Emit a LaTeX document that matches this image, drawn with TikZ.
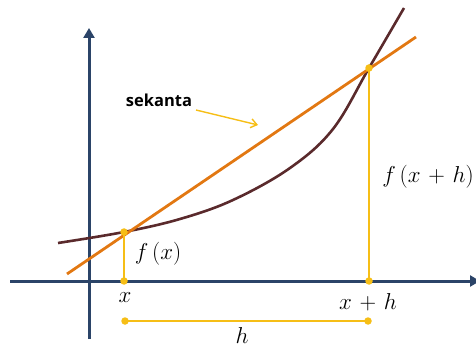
\documentclass[tikz,border=0pt]{standalone}
\usepackage{fontspec}
\usepackage{fix-cm}
\newfontfamily\labelfont{Open Sans}
\usetikzlibrary{arrows.meta}
\definecolor{axisblue}{HTML}{2B4468}
\definecolor{curvebrown}{HTML}{5A2A2C}
\definecolor{secorange}{HTML}{E27812}
\definecolor{guideyellow}{HTML}{F6BE16}
\begin{document}
\begin{tikzpicture}[x=1pt,y=-1pt,
  axisline/.style={draw=axisblue,line width=3pt},
  curveline/.style={draw=curvebrown,line width=2.6pt},
  secline/.style={draw=secorange,line width=2.8pt},
  guide/.style={draw=guideyellow,line width=1.4pt},
  dot/.style={circle,fill=guideyellow,inner sep=0pt,minimum size=7.5pt},
  mathlbl/.style={inner sep=0pt,font=\fontsize{23}{27}\selectfont},
  wordlbl/.style={inner sep=0pt,font=\labelfont\bfseries\fontsize{16.5}{19}\selectfont}]
\useasboundingbox (0,0) rectangle (476,347);
% axes
\coordinate (ybot) at (89,339);
\coordinate (ytop) at (89,28);
\coordinate (xl) at (10,281);
\coordinate (xr) at (480,281);
\draw[axisline,-{Triangle[length=10pt,width=11pt]}] (ybot) -- (ytop);
\draw[axisline,-{Triangle[length=10pt,width=11pt]}] (xl) -- (xr);
% curve
\draw[curveline] plot[smooth,tension=0.6] coordinates {(58,243) (124,232) (180,219) (233,200) (290,168) (333,129) (369,68) (404,8)};
% secant
\coordinate (s1) at (67,274);
\coordinate (s2) at (416,37);
\draw[secline] (s1) -- (s2);
% points
\coordinate (A) at (124,232);
\coordinate (B) at (369,68);
\coordinate (Ax) at (124,281);
\coordinate (Bx) at (369,281);
\coordinate (H1) at (125,321);
\coordinate (H2) at (368,321);
\draw[guide] (A) -- (Ax);
\draw[guide] (B) -- (Bx);
\draw[guide] (H1) -- (H2);
\foreach \p in {A,B,Ax,Bx,H1,H2} \node[dot] at (\p) {};
% labels
\node[mathlbl] (lx) at (125,298) {$x$};
\node[mathlbl] (lxh) at (368,302) {$\medmuskip=6mu x+h$};
\node[mathlbl] (lh) at (242,336) {$h$};
\node[mathlbl] (lfx) at (158,254) {$f\,(x)$};
\node[mathlbl] (lfxh) at (428,177) {$\medmuskip=6mu f\,(x+h)$};
\node[wordlbl] (sek) at (159,100) {sekanta};
\coordinate (arrend) at (258,125);
\draw[guideyellow,line width=1.4pt,-{Straight Barb[length=6pt,width=9pt]}] (196,110) -- (arrend);
\end{tikzpicture}
\end{document}
